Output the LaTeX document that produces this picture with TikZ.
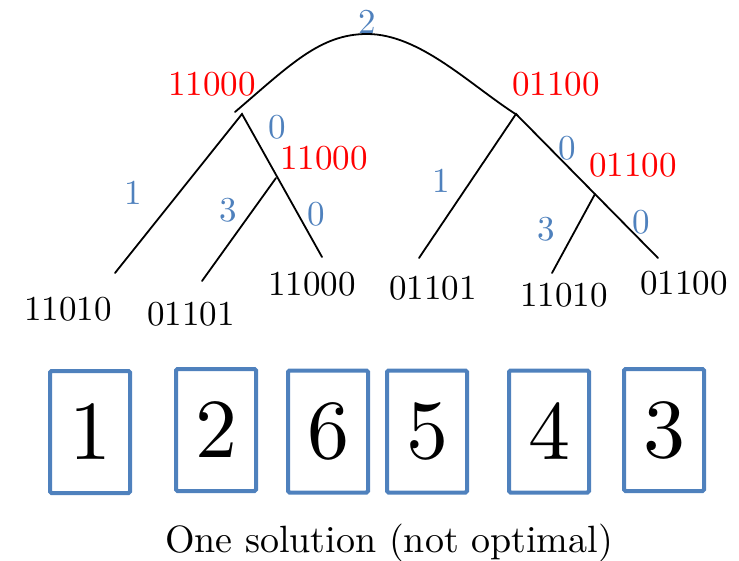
\documentclass[tikz,border=0pt]{standalone}
\usepackage{fontspec}
\setmainfont{lmroman10-regular.otf}
\definecolor{wblue}{RGB}{79,129,189}
\begin{document}
\begin{tikzpicture}[x=1pt,y=-1pt,
  lab/.style={font=\fontsize{35}{35}\selectfont, inner sep=0pt},
  wt/.style={lab, text=wblue},
  code/.style={lab, text=red},
  leaf/.style={lab, text=black},
  edge/.style={line width=1.8pt, line cap=round},
  card/.style={draw=wblue, line width=4pt, rounded corners=1.5pt, minimum width=80pt,
    minimum height=122pt, inner sep=0pt, font=\fontsize{84}{84}\selectfont}]
\useasboundingbox (0,0) rectangle (739,561);
% branching points and line ends
\coordinate (tL) at (235,112);
\coordinate (top) at (367,34);
\coordinate (tR) at (517,115);
\coordinate (cL) at (242,114);
\coordinate (aL) at (115,273);
\coordinate (bL) at (322,257);
\coordinate (sL) at (276,178);
\coordinate (dL) at (202,281);
\coordinate (cR) at (516,114);
\coordinate (aR) at (419,258);
\coordinate (bR) at (658,258);
\coordinate (sR) at (595,194);
\coordinate (dR) at (552,273);
% edges
\draw[edge] (tL) .. controls (290,65) and (320,34) .. (top)
            .. controls (420,34) and (470,85) .. (tR);
\draw[edge] (aL) -- (cL) -- (bL);
\draw[edge] (sL) -- (dL);
\draw[edge] (aR) -- (cR) -- (bR);
\draw[edge] (sR) -- (dR);
% labels
\node[wt] (w0) at (367,22) {2};
\node[code] (rL) at (212,84) {11000};
\node[code] (rR) at (556,84) {01100};
\node[wt] (w1) at (277,127) {0};
\node[code] (rL2) at (324,158) {11000};
\node[wt] (w2) at (133,193) {1};
\node[wt] (w3) at (228,210) {3};
\node[wt] (w4) at (316,214) {0};
\node[wt] (w5) at (567,148) {0};
\node[code] (rR2) at (633,165) {01100};
\node[wt] (w6) at (441,181) {1};
\node[wt] (w7) at (546,229) {3};
\node[wt] (w8) at (641,222) {0};
\node[leaf] (l1) at (68,309) {11010};
\node[leaf] (l2) at (191,314) {01101};
\node[leaf] (l3) at (312,284) {11000};
\node[leaf] (l4) at (433,288) {01101};
\node[leaf] (l5) at (564,295) {11010};
\node[leaf] (l6) at (684,283) {01100};
% cards
\node[card] (k1) at (90,432) {1};
\node[card] (k2) at (216,430) {2};
\node[card] (k3) at (328,431.5) {6};
\node[card] (k4) at (427,431.5) {5};
\node[card] (k5) at (549,431.5) {4};
\node[card] (k6) at (664,430) {3};
\node[anchor=base, inner sep=0pt, font=\fontsize{38}{38}\selectfont] (cap) at (389,552) {One solution (not optimal)};
\end{tikzpicture}
\end{document}
